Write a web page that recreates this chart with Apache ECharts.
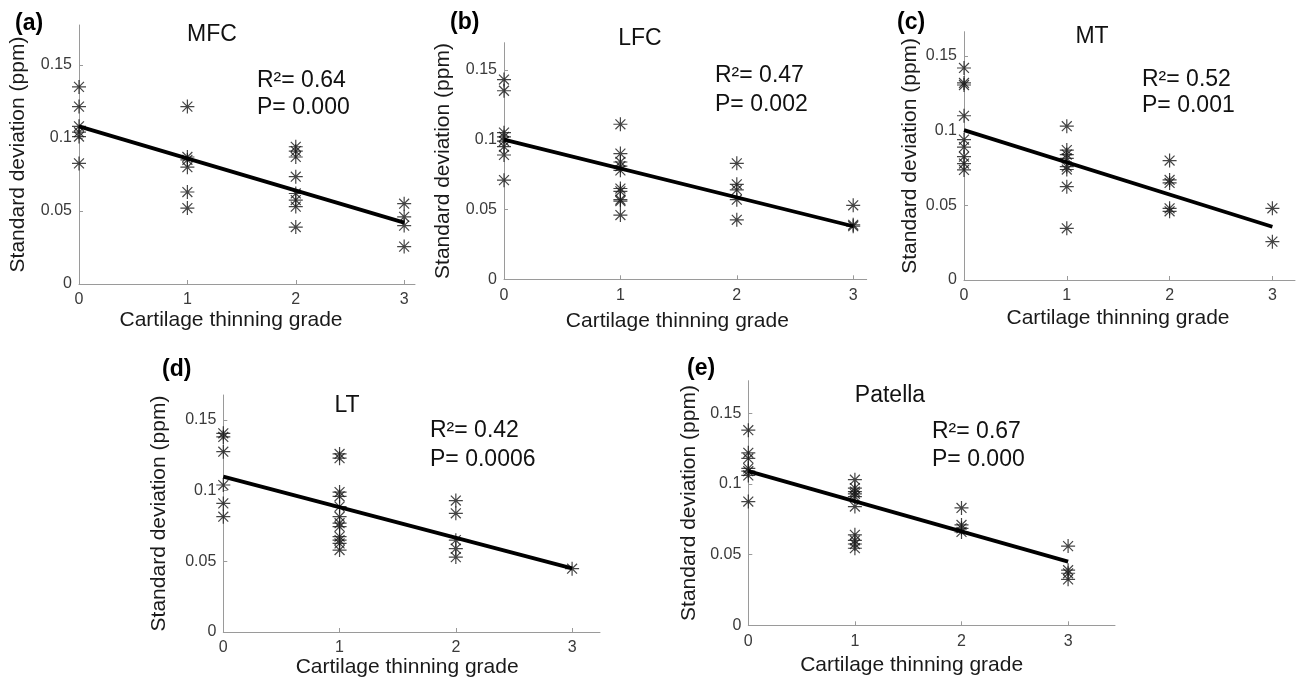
<!DOCTYPE html>
<html><head><meta charset="utf-8">
<script src="https://cdn.jsdelivr.net/npm/echarts@6/dist/echarts.min.js"></script>
<style>html,body{margin:0;padding:0;background:#fff}#c{width:1301px;height:680px}</style>
</head><body><div id="c"></div>
<script>
// ---- data ----
const gradeTicks = [0, 1, 2, 3];
const yTicks = [0, 0.05, 0.1, 0.15];

const mfcGrade = [0,0,0,0,0,0, 1,1,1,1,1,1, 2,2,2,2,2,2,2,2, 3,3,3,3];
const mfcSD    = [0.135,0.1215,0.108,0.104,0.101,0.0826, 0.1215,0.087,0.085,0.080,0.063,0.052, 0.094,0.091,0.087,0.0735,0.062,0.0575,0.053,0.039, 0.055,0.046,0.040,0.0256];
const mfcFit   = [0.108, 0.042];

const lfcGrade = [0,0,0,0,0,0,0,0, 1,1,1,1,1,1,1,1,1,1, 2,2,2,2,2, 3,3,3];
const lfcSD    = [0.143,0.135,0.105,0.102,0.099,0.095,0.089,0.071, 0.111,0.090,0.084,0.081,0.078,0.065,0.063,0.057,0.056,0.046, 0.083,0.068,0.064,0.057,0.0426, 0.053,0.039,0.038];
const lfcFit   = [0.100, 0.038];

const mtGrade = [0,0,0,0,0,0,0,0,0, 1,1,1,1,1,1,1,1, 2,2,2,2,2, 3,3];
const mtSD    = [0.142,0.132,0.1306,0.110,0.094,0.089,0.0826,0.078,0.0737, 0.103,0.087,0.084,0.0815,0.076,0.074,0.0625,0.0346, 0.080,0.067,0.065,0.048,0.046, 0.048,0.0257];
const mtFit   = [0.1004, 0.0357];

const ltGrade = [0,0,0,0,0,0, 1,1,1,1,1,1,1,1,1,1,1,1, 2,2,2,2,2, 3];
const ltSD    = [0.1406,0.138,0.1276,0.104,0.091,0.0816, 0.126,0.123,0.099,0.096,0.0887,0.0816,0.077,0.0745,0.0675,0.065,0.0627,0.058, 0.093,0.084,0.065,0.059,0.053, 0.0448];
const ltFit   = [0.110, 0.045];

const patGrade = [0,0,0,0,0,0,0, 1,1,1,1,1,1,1,1,1,1, 2,2,2,2, 3,3,3,3];
const patSD    = [0.138,0.122,0.118,0.111,0.109,0.106,0.0875, 0.103,0.097,0.0946,0.093,0.091,0.084,0.064,0.060,0.0575,0.0545, 0.083,0.071,0.0686,0.066, 0.056,0.039,0.0368,0.0325];
const patFit   = [0.109, 0.045];

const panelLabels = ['(a)', '(b)', '(c)', '(d)', '(e)'];
const panelTitles = ['MFC', 'LFC', 'MT', 'LT', 'Patella'];
const r2Texts = ['R\u00b2= 0.64', 'R\u00b2= 0.47', 'R\u00b2= 0.52', 'R\u00b2= 0.42', 'R\u00b2= 0.67'];
const pTexts  = ['P= 0.000', 'P= 0.002', 'P= 0.001', 'P= 0.0006', 'P= 0.000'];
const xTitle = 'Cartilage thinning grade';
const yTitle = 'Standard deviation (ppm)';

// ---- layout ----
const FONT = '"Liberation Sans", Arial, sans-serif';
const panels = [
  {grade: mfcGrade, sd: mfcSD, fit: mfcFit, grid: {left: 79, top: 25, width: 336, height: 259}, xmax: 3.1, ymax: 0.1774,
   yGap: 50, xGap: 26, xPad: 32, lab: [15, 24], ttl: [212, 35], r2: [257, 81, 108]},
  {grade: lfcGrade, sd: lfcSD, fit: lfcFit, grid: {left: 504, top: 42.7, width: 362.7, height: 236.6}, xmax: 3.116, ymax: 0.1694,
   yGap: 50, xGap: 31, xPad: 16, lab: [450, 23], ttl: [640, 39], r2: [715, 76, 105]},
  {grade: mtGrade, sd: mtSD, fit: mtFit, grid: {left: 964, top: 31.7, width: 331, height: 248.3}, xmax: 3.22, ymax: 0.1663,
   yGap: 43, xGap: 28, xPad: 23, lab: [897, 23], ttl: [1092, 37], r2: [1142, 80, 106]},
  {grade: ltGrade, sd: ltSD, fit: ltFit, grid: {left: 223.3, top: 395, width: 376.7, height: 237}, xmax: 3.24, ymax: 0.1677,
   yGap: 54, xGap: 24, xPad: 9, lab: [162, 370], ttl: [347, 406], r2: [430, 431, 460]},
  {grade: patGrade, sd: patSD, fit: patFit, grid: {left: 748.3, top: 380.7, width: 366.7, height: 244.6}, xmax: 3.44, ymax: 0.173,
   yGap: 49, xGap: 29, xPad: 40, lab: [687, 369], ttl: [890, 396], r2: [932, 432, 460]}
];

const STAR = 'path://M5,0L5,10M0,5L10,5M1.46,1.46L8.54,8.54M1.46,8.54L8.54,1.46';
const axisGray = '#9a9a9a';

const grids = [], xAxes = [], yAxes = [], series = [], graphics = [];
panels.forEach((p, i) => {
  grids.push(p.grid);
  xAxes.push({
    type: 'value', gridIndex: i, min: 0, max: p.xmax,
    name: xTitle, nameLocation: 'middle', nameGap: p.xGap,
    nameTextStyle: {fontFamily: FONT, fontSize: 21, color: '#1a1a1a', padding: [0, p.xPad, 0, 0]},
    axisLine: {show: true, lineStyle: {color: axisGray, width: 1}},
    axisTick: {show: true, inside: true, length: 4, lineStyle: {color: axisGray}, customValues: gradeTicks},
    axisLabel: {fontFamily: FONT, fontSize: 16, color: '#3a3a3a', margin: 8, customValues: gradeTicks},
    splitLine: {show: false}
  });
  yAxes.push({
    type: 'value', gridIndex: i, min: 0, max: p.ymax,
    name: yTitle, nameLocation: 'middle', nameGap: p.yGap,
    nameTextStyle: {fontFamily: FONT, fontSize: 21, color: '#1a1a1a'},
    axisLine: {show: true, lineStyle: {color: axisGray, width: 1}},
    axisTick: {show: true, inside: true, length: 4, lineStyle: {color: axisGray}, customValues: yTicks},
    axisLabel: {fontFamily: FONT, fontSize: 16, color: '#3a3a3a', margin: 7, customValues: yTicks,
      formatter: v => String(+v.toFixed(2))},
    splitLine: {show: false}
  });
  series.push({
    type: 'scatter', xAxisIndex: i, yAxisIndex: i,
    data: p.grade.map((g, k) => [g, p.sd[k]]),
    symbol: STAR, symbolSize: 14,
    itemStyle: {color: 'rgba(0,0,0,0)', borderColor: '#161616', borderWidth: 1.2},
    z: 2
  });
  series.push({
    type: 'line', xAxisIndex: i, yAxisIndex: i,
    data: [[gradeTicks[0], p.fit[0]], [gradeTicks[3], p.fit[1]]],
    symbol: 'none', lineStyle: {color: '#000', width: 3.8}, z: 3
  });
  graphics.push({type: 'text', left: p.lab[0], top: p.lab[1] - 12,
    style: {text: panelLabels[i], font: 'bold 23px ' + FONT, fill: '#000'}});
  graphics.push({type: 'text', x: p.ttl[0], y: p.ttl[1],
    style: {text: panelTitles[i], font: '23px ' + FONT, fill: '#111', align: 'center', verticalAlign: 'middle'}});
  graphics.push({type: 'text', x: p.r2[0], y: p.r2[1],
    style: {text: r2Texts[i], font: '23px ' + FONT, fill: '#111', align: 'left', verticalAlign: 'middle'}});
  graphics.push({type: 'text', x: p.r2[0], y: p.r2[2],
    style: {text: pTexts[i], font: '23px ' + FONT, fill: '#111', align: 'left', verticalAlign: 'middle'}});
});

const chart = echarts.init(document.getElementById('c'), null, {renderer: 'canvas'});
chart.setOption({
  backgroundColor: '#fff',
  animation: false,
  grid: grids, xAxis: xAxes, yAxis: yAxes, series: series,
  graphic: {elements: graphics}
});
</script></body></html>
